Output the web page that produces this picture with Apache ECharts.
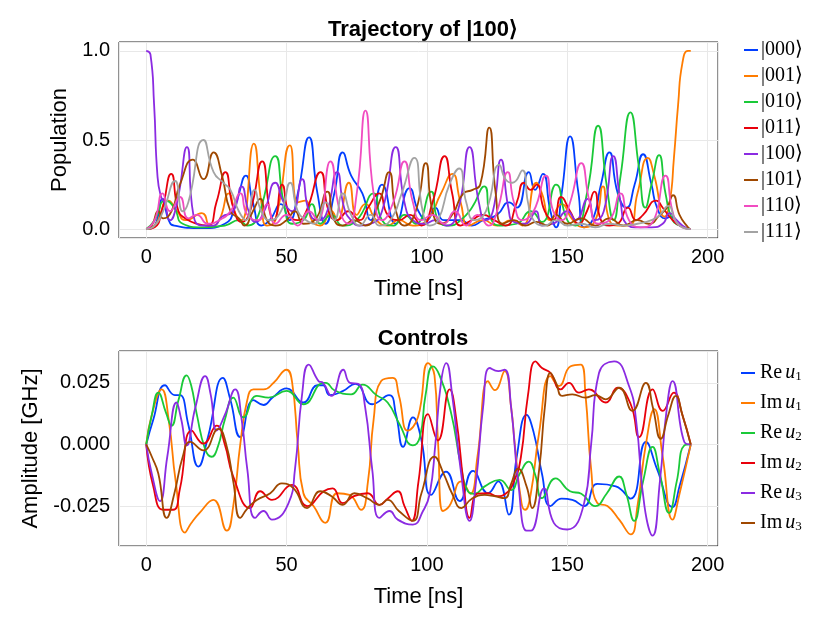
<!DOCTYPE html>
<html>
<head>
<meta charset="utf-8">
<script src="https://cdn.jsdelivr.net/npm/echarts@6/dist/echarts.min.js"></script>
<style>
  html, body { margin: 0; padding: 0; background: #fff; }
  #chart { width: 830px; height: 623px; }
</style>
</head>
<body>
<div id="chart"></div>
<script>
// populations, [time ns, population]
var pop000 = [[0,0],[3,0.02],[5.8,0.17],[8,0.05],[10,0.02],[20,0.005],[28,0.03],[32,0.15],[35.5,0.30],[38,0.15],[41,0.02],[44,0.05],[48,0.14],[51,0.05],[54,0.2],[58,0.515],[61,0.2],[63.9,0.03],[67,0.2],[70,0.43],[73,0.3],[77,0.2],[80,0.05],[84,0.25],[88.8,0.03],[93.8,0.23],[97,0.1],[100,0.05],[103,0.12],[106,0.05],[112,0.05],[116,0.02],[120,0.05],[125,0.08],[129.3,0.15],[132,0.12],[136.3,0.32],[138.5,0.22],[141.3,0.31],[144,0.1],[146,0.01],[148,0.2],[151,0.52],[154,0.2],[156,0.01],[159,0.05],[162,0.25],[165,0.43],[168,0.2],[171,0.12],[174,0.25],[177,0.42],[180,0.25],[182,0.12],[185,0.06],[187,0.07],[190,0.02],[194,0]];
var pop001 = [[0,0],[3,0.02],[7.9,0.16],[11,0.1],[14,0.05],[19.8,0.09],[23,0.01],[26,0.05],[29.4,0.2],[32,0.08],[34,0.05],[38.3,0.48],[41,0.15],[43,0.02],[46,0.05],[51.2,0.47],[54,0.15],[56.7,0.16],[59,0.05],[62,0.02],[66,0.1],[68,0.05],[72.2,0.26],[75,0.08],[78,0.14],[82,0.05],[86,0.02],[90,0.05],[95,0.02],[100,0.05],[105,0.2],[109,0.31],[112,0.15],[115,0.02],[120,0.05],[125,0.02],[130,0.05],[134,0.02],[139,0.26],[141,0.2],[144,0.05],[148,0.14],[152,0.05],[156,0.01],[160,0.05],[162.7,0.24],[165,0.05],[168,0.02],[172,0.02],[175,0.2],[178.7,0.4],[181,0.3],[184.7,0.07],[186.5,0.15],[188,0.4],[189.5,0.7],[191,0.93],[193,1.0],[194,1.0]];
var pop010 = [[0,0],[3,0.05],[6.8,0.16],[10,0.12],[13,0.03],[20,0.01],[28,0.02],[33,0.05],[36,0.02],[40,0.08],[46,0.41],[49,0.15],[52,0.03],[56,0.05],[59,0.14],[62,0.03],[66,0.08],[70,0.02],[75,0.05],[81,0.2],[84,0.05],[88,0.02],[92,0.08],[96,0.03],[101.5,0.21],[104,0.05],[108,0.02],[112,0.05],[116,0.12],[120.4,0.24],[123,0.05],[127,0.02],[132,0.03],[137,0.1],[141,0.04],[146,0.25],[150,0.05],[153,0.02],[157,0.2],[161,0.58],[164,0.25],[166.5,0.05],[169,0.3],[172.5,0.655],[175.5,0.35],[177.8,0.12],[180,0.25],[182.7,0.415],[185,0.2],[187.5,0.05],[190,0.02],[194,0]];
var pop011 = [[0,0],[3,0.01],[5.5,0.1],[8.9,0.31],[11.5,0.1],[14,0.06],[18,0.03],[22,0.02],[25,0.15],[28.2,0.32],[31,0.12],[34,0.04],[37,0.1],[41.3,0.38],[44,0.1],[45.5,0.05],[48.4,0.25],[51,0.08],[54,0.05],[57,0.1],[62.1,0.32],[65,0.1],[68,0.05],[72,0.1],[76,0.05],[79,0.12],[83,0.2],[86,0.08],[90,0.05],[94,0.08],[98,0.02],[102,0.15],[106.3,0.41],[109,0.2],[112,0.02],[116,0.05],[120,0.08],[124,0.05],[128,0.02],[132,0.15],[134.5,0.26],[137,0.22],[139,0.25],[142,0.1],[145,0.05],[147.8,0.18],[151,0.1],[154,0.03],[157,0.1],[159.7,0.21],[162,0.05],[165,0.02],[168,0.03],[171.6,0.12],[174.5,0.05],[177,0.08],[181.7,0.16],[184,0.12],[187,0.06],[190,0.02],[194,0]];
var pop100 = [[0,1.0],[1.5,0.98],[2.8,0.7],[4,0.3],[5.3,0.18],[6.5,0.15],[8.5,0.05],[11,0.15],[14.5,0.46],[16.8,0.08],[20,0.02],[24,0.02],[27,0.07],[31,0.1],[34,0.24],[36.5,0.1],[39,0.04],[42,0.1],[46,0.26],[49,0.15],[52,0.1],[55.5,0.28],[58,0.1],[61,0.05],[64,0.08],[68,0.32],[70.5,0.12],[73,0.05],[76,0.02],[80,0.03],[84,0.1],[88.9,0.46],[92,0.15],[95,0.05],[99,0.03],[103,0.05],[107,0.02],[111,0.1],[115.2,0.46],[118.5,0.15],[121,0.05],[123.5,0.1],[126.4,0.39],[129,0.12],[131,0.04],[135,0.03],[138.9,0.1],[141,0.02],[145,0.03],[150,0.1],[153,0.05],[157.3,0.17],[160,0.05],[163,0.1],[166.4,0.41],[169,0.15],[171,0.03],[175,0.01],[180,0.01],[184,0.03],[186.5,0.09],[189,0.05],[192,0.01],[194,0]];
var pop101 = [[0,0],[2,0.02],[4.3,0.1],[6,0.06],[9,0.1],[12,0.25],[16.6,0.39],[20.4,0.28],[24,0.43],[27,0.3],[30,0.1],[33,0.06],[35,0.02],[38,0.1],[40.6,0.17],[43,0.05],[46,0.02],[50,0.05],[53,0.1],[56,0.03],[60,0.05],[64.5,0.21],[67,0.05],[70,0.02],[74,0.05],[78,0.02],[83,0.15],[86.5,0.32],[89,0.1],[92,0.02],[96,0.1],[99.6,0.37],[102,0.1],[105,0.03],[109,0.08],[113,0.2],[116.3,0.22],[119,0.25],[122.2,0.57],[124.5,0.2],[127,0.03],[131,0.05],[135,0.02],[139,0.04],[143,0.02],[146,0.08],[150,0.03],[155,0.06],[160,0.02],[165,0.06],[170,0.02],[175,0.05],[179,0.03],[183,0.08],[185.5,0.12],[187.7,0.19],[190,0.08],[193,0.01],[194,0]];
var pop110 = [[0,0],[3,0.05],[5.8,0.2],[8.5,0.1],[12,0.18],[15,0.06],[18,0.08],[22,0.03],[26,0.05],[30,0.1],[33.5,0.2],[36,0.08],[40,0.05],[43,0.14],[46,0.03],[50,0.08],[54,0.02],[58,0.1],[61,0.05],[65.6,0.38],[69,0.1],[72,0.03],[75,0.2],[78.1,0.665],[81,0.2],[84,0.05],[88,0.15],[92,0.38],[95,0.15],[98,0.05],[102,0.08],[106,0.03],[110,0.1],[114,0.02],[118,0.08],[122,0.02],[125,0.1],[128.8,0.32],[131,0.15],[134,0.05],[138,0.1],[142.4,0.3],[145,0.1],[148,0.05],[151,0.15],[155,0.37],[158,0.15],[161,0.03],[165,0.05],[169,0.2],[172,0.05],[176,0.01],[180,0.03],[185,0.3],[187.5,0.1],[190,0.02],[194,0]];
var pop111 = [[0,0],[3,0.02],[6,0.1],[10.3,0.27],[13,0.1],[15,0.15],[20.4,0.5],[24,0.32],[27.5,0.26],[30,0.22],[33,0.1],[35.5,0.05],[38.6,0.22],[41,0.1],[44,0.05],[48,0.1],[51.3,0.26],[54,0.1],[57,0.05],[60,0.03],[64,0.15],[67,0.05],[70,0.2],[73,0.08],[76,0.02],[80,0.08],[83,0.02],[87,0.05],[91,0.2],[95.5,0.4],[98.5,0.1],[101,0.02],[104,0.05],[108,0.25],[111.5,0.34],[114,0.15],[117,0.05],[121,0.1],[125.8,0.36],[128,0.28],[130.5,0.26],[134,0.33],[136,0.15],[138,0.05],[142,0.02],[146,0.05],[150,0.02],[155,0.03],[160,0.01],[165,0.03],[170,0.02],[175,0.03],[180,0.05],[183,0.08],[186,0.13],[188.5,0.05],[191,0.01],[194,0]];

// controls, [time ns, amplitude GHz]
var reU1 = [[0,0],[2.5,0.010],[6.7,0.024],[10.2,0.020],[12,0.020],[15,0.008],[18.6,-0.009],[22,0.003],[27.3,0.027],[30,0.018],[33.5,0.003],[38.2,0.018],[41.8,0.016],[45,0.019],[50,0.0227],[56,0.017],[61,0.024],[63,0.024],[65.4,0.020],[70,0.0216],[74.5,0.0246],[80.5,0.0163],[86.5,0.020],[89,0.012],[91.5,-0.001],[95,0.011],[98,0.002],[101.5,-0.0205],[106.8,-0.011],[111.7,-0.023],[116.4,-0.0107],[121.8,-0.0198],[125.4,-0.015],[129.2,-0.0285],[132,-0.005],[135.5,0.012],[138,0.005],[141,-0.012],[144,-0.025],[148,-0.022],[151.8,-0.0225],[156,-0.025],[160.7,-0.016],[167.3,-0.017],[172.6,-0.022],[178,0.001],[182,-0.01],[187.5,-0.0254],[190,-0.017],[194,0]];
var imU1 = [[0,0],[2,0.012],[5.5,0.0223],[8,0.01],[10.5,-0.015],[13.8,-0.0358],[16,-0.032],[19,-0.0278],[23.9,-0.0225],[28.7,-0.035],[31,-0.025],[33.5,0.0],[36,0.018],[38.2,0.0223],[41.8,0.0223],[45.4,0.025],[50,0.0303],[52,0.025],[54,0.0],[56,-0.0198],[59.6,-0.025],[63.8,-0.0318],[68,-0.0198],[72.4,-0.0205],[76.5,-0.0265],[79,-0.015],[81,0.01],[83.7,0.0257],[87.8,0.027],[90,0.02],[93.2,0.0056],[96.8,0.011],[100.4,0.033],[102.7,0.028],[104,0.0],[105.7,-0.027],[108,-0.025],[112.3,-0.015],[115.5,-0.02],[118,-0.005],[121.8,0.0257],[124.2,0.022],[127.7,0.0297],[130,0.015],[131.3,0.0],[133.7,-0.0238],[135,-0.0265],[137,-0.02],[140,0.005],[144,0.0277],[147,0.0237],[151.2,0.0317],[154.8,0.0324],[156.5,0.02],[158.5,-0.01],[160.7,-0.0238],[164.3,-0.025],[168.5,-0.0305],[172.6,-0.0365],[175,-0.025],[178,0.0],[181,0.0143],[184,-0.005],[187.5,-0.0305],[190,-0.02],[194,0]];
var reU2 = [[0,0],[2,0.012],[4.3,0.021],[7,0.013],[9,0.0076],[11.5,0.018],[14.4,0.028],[16,0.024],[18,0.0123],[21,-0.002],[23.3,-0.005],[25.5,-0.001],[28,0.01],[31,0.019],[34.6,0.011],[39.4,0.0197],[43.6,0.019],[50,0.0217],[56,0.0163],[63.2,0.025],[64,0.025],[67,0.022],[73,0.0203],[77.1,0.0243],[82,0.02],[86,0.017],[90.2,0.0083],[95,-0.0004],[97.5,0.003],[99.5,0.02],[102.1,0.0317],[104.5,0.028],[108.7,0.0123],[112,-0.008],[114.6,-0.019],[117,-0.02],[120.6,-0.017],[125.9,-0.0144],[130,-0.0185],[133,-0.012],[136.3,-0.007],[138.5,-0.012],[141,-0.0218],[145.8,-0.0138],[151,-0.019],[155,-0.02],[160,-0.025],[164,-0.02],[168.5,-0.013],[171,-0.02],[173.8,-0.031],[177,-0.015],[180.4,-0.001],[183,-0.012],[186.3,-0.0278],[189,-0.015],[191.7,-0.0004],[194,0]];
var imU2 = [[0,0],[2.5,-0.017],[6,-0.0265],[9.6,-0.0265],[12,-0.018],[16.2,0.0056],[20.4,0.0003],[25.1,0.0076],[28,0.0],[31,-0.013],[37,-0.0258],[40.6,-0.019],[44.8,-0.0225],[51.9,-0.0164],[57.3,-0.025],[63.2,-0.019],[66.4,-0.0178],[70,-0.0238],[74,-0.021],[78.9,-0.0198],[83.1,-0.0245],[86,-0.022],[89.6,-0.019],[92,-0.025],[94.6,-0.031],[97,-0.015],[100.4,0.0123],[103.9,0.0016],[108.1,0.0223],[110.5,0.01],[113,-0.015],[115.2,-0.0298],[118,-0.02],[121.8,-0.0198],[125,-0.021],[128,-0.02],[131,-0.015],[133.5,-0.005],[136,0.02],[138.7,0.0337],[141,0.031],[144,0.029],[147.6,0.0223],[150.6,0.025],[154.2,0.021],[157.7,0.0223],[163.7,0.017],[167.9,0.023],[172.6,0.0163],[175.6,0.003],[180.4,0.0223],[184,0.0136],[188,0.021],[191,0.012],[194,0]];
var reU3 = [[0,0],[2,-0.012],[4.9,-0.023],[7.5,-0.005],[10.8,0.017],[12.5,0.01],[14.4,-0.0004],[17.5,0.015],[21,0.0277],[23,0.02],[25.1,0.0056],[28,0.012],[31.7,0.0223],[34,0.01],[36,-0.01],[38.8,-0.0298],[41.8,-0.027],[44.8,-0.0305],[50.7,-0.0238],[53,-0.01],[55.5,0.02],[57.9,0.0324],[61.4,0.0257],[63,0.025],[66,0.0197],[70.2,0.0303],[72.6,0.025],[75.5,0.0246],[78,0.015],[80.5,-0.01],[83.1,-0.0298],[86.7,-0.027],[89.6,-0.0305],[95,-0.0325],[98.6,-0.027],[101,-0.02],[103,0.0],[105,0.025],[106.9,0.033],[109,0.02],[112,-0.01],[115.2,-0.031],[117.5,-0.015],[120,0.015],[122.4,0.031],[125.4,0.0297],[127.7,0.0303],[130,0.015],[132.5,-0.015],[135.5,-0.035],[137,-0.035],[141.7,-0.0178],[145.2,-0.0318],[150,-0.0345],[156,-0.0238],[158.5,0.0],[161.3,0.029],[166.7,0.0337],[172,0.0237],[174.5,0.01],[177.5,-0.025],[180.4,-0.037],[183,-0.015],[185.5,0.015],[187.5,0.0257],[191.7,0.001],[194,0]];
var imU3 = [[0,0],[2,-0.005],[4.3,-0.0118],[7.3,-0.0298],[10,-0.02],[13,-0.005],[15.6,0.001],[20.4,-0.0024],[25.7,0.0063],[28.5,0.0],[31,-0.015],[33.5,-0.0298],[36,-0.026],[39.4,-0.0225],[44.2,-0.0198],[48.3,-0.0158],[52.5,-0.0178],[57.3,-0.0258],[62,-0.019],[66,-0.021],[70,-0.0245],[74.2,-0.0198],[79,-0.022],[83.1,-0.0245],[86,-0.0225],[90,-0.027],[95,-0.031],[98,-0.02],[102.7,-0.005],[106,-0.012],[109,-0.02],[112.3,-0.0258],[116,-0.022],[120.6,-0.0205],[124,-0.021],[127.7,-0.0218],[130,-0.016],[132.5,-0.0098],[135.5,-0.017],[137.5,-0.0258],[140,-0.01],[142,0.015],[144,0.029],[146,0.025],[148.2,0.0197],[151.8,0.0203],[156.5,0.019],[160,0.02],[163.7,0.0183],[168.5,0.023],[173.2,0.0136],[178,0.025],[180.5,0.015],[183.3,0.0023],[186,0.012],[188.7,0.0197],[191,0.012],[194,0]];

var popNames = ['|000⟩', '|001⟩', '|010⟩', '|011⟩', '|100⟩', '|101⟩', '|110⟩', '|111⟩'];
var popData = [pop000, pop001, pop010, pop011, pop100, pop101, pop110, pop111];
var ctrlNames = ['Re u1', 'Im u1', 'Re u2', 'Im u2', 'Re u3', 'Im u3'];
var ctrlData = [reU1, imU1, reU2, imU2, reU3, imU3];
var colors = ['#023eff', '#ff7c00', '#1ac938', '#e8000b', '#8b2be2', '#9f4800', '#f14cc1', '#a3a3a3'];

var chart = echarts.init(document.getElementById('chart'));
var sans = 'Liberation Sans';
var serif = 'Liberation Serif';

function xAxisCfg(idx) {
    return {
        type: 'value', gridIndex: idx, min: -9.7, max: 203.7,
        minInterval: 50, maxInterval: 50,
        name: 'Time [ns]', nameLocation: 'middle', nameGap: 40,
        nameTextStyle: { fontFamily: sans, fontSize: 22, color: '#000' },
        axisLine: { show: false }, axisTick: { show: false },
        axisLabel: {
            showMinLabel: false, showMaxLabel: false, margin: 9,
            fontFamily: sans, fontSize: 20, color: '#000',
            formatter: function (v) { return Math.abs(v % 50) < 1e-6 ? String(v) : ''; }
        },
        splitLine: { show: true, lineStyle: { color: '#e8e8e8', width: 1 } }
    };
}

function fmtY(v, d, step) {
    var r = v / step;
    if (Math.abs(r - Math.round(r)) > 1e-6) return '';
    if (Math.abs(v) < 1e-9) return (0).toFixed(d);
    return v < 0 ? '-' + (-v).toFixed(d) : v.toFixed(d);
}

var series = [];
popData.forEach(function (d, i) {
    series.push({
        name: popNames[i], type: 'line', xAxisIndex: 0, yAxisIndex: 0,
        data: d, smooth: 0.55, showSymbol: false,
        lineStyle: { width: 1.8, color: colors[i] }, itemStyle: { color: colors[i] },
        z: 2 + i
    });
});
ctrlData.forEach(function (d, i) {
    series.push({
        name: ctrlNames[i], type: 'line', xAxisIndex: 1, yAxisIndex: 1,
        data: d, smooth: 0.5, showSymbol: false,
        lineStyle: { width: 1.8, color: colors[i] }, itemStyle: { color: colors[i] },
        z: 2 + i
    });
});

chart.setOption({
    animation: false,
    backgroundColor: '#fff',
    title: [
        { text: 'Trajectory of |100⟩', left: 418, top: 14, textAlign: 'center',
          textStyle: { fontFamily: sans, fontSize: 22, fontWeight: 'bold', color: '#000' } },
        { text: 'Controls', left: 418, top: 323, textAlign: 'center',
          textStyle: { fontFamily: sans, fontSize: 22, fontWeight: 'bold', color: '#000' } }
    ],
    legend: [
        {
            data: popNames, orient: 'vertical', left: 739, top: 35,
            icon: 'rect', itemWidth: 14, itemHeight: 2, itemGap: 6, itemStyle: { borderWidth: 0 },
            textStyle: { fontFamily: serif, fontSize: 20, color: '#000', lineHeight: 20, padding: [0, 0, 0, -2] }
        },
        {
            data: ctrlNames, orient: 'vertical', left: 736, top: 356,
            icon: 'rect', itemWidth: 14, itemHeight: 2, itemGap: 6,
            formatter: function (n) {
                var p = n.split(' ');
                return '{a|' + p[0] + '}{b|' + p[1].charAt(0) + '}{c|' + p[1].charAt(1) + '}';
            },
            textStyle: {
                fontFamily: serif, fontSize: 20, color: '#000', lineHeight: 24,
                rich: {
                    a: { fontFamily: serif, fontSize: 20, color: '#000', padding: [0, 3, 0, 0] },
                    b: { fontFamily: serif, fontSize: 20, fontStyle: 'italic', color: '#000' },
                    c: { fontFamily: serif, fontSize: 13, color: '#000', padding: [8, 0, 0, 0] }
                }
            }
        }
    ],
    grid: [
        { left: 119, right: 112, top: 42, height: 196, show: true, borderColor: '#222', borderWidth: 1, backgroundColor: 'transparent' },
        { left: 119, right: 112, top: 351, height: 195, show: true, borderColor: '#222', borderWidth: 1, backgroundColor: 'transparent' }
    ],
    xAxis: [xAxisCfg(0), xAxisCfg(1)],
    yAxis: [
        {
            type: 'value', gridIndex: 0, min: -0.05, max: 1.05,
            minInterval: 0.5, maxInterval: 0.5,
            name: 'Population', nameLocation: 'middle', nameGap: 45,
            nameTextStyle: { fontFamily: sans, fontSize: 22, color: '#000' },
            axisLine: { show: false }, axisTick: { show: false },
            axisLabel: { showMinLabel: false, showMaxLabel: false, margin: 9, fontFamily: sans, fontSize: 20, color: '#000',
                formatter: function (v) { return fmtY(v, 1, 0.5); } },
            splitLine: { show: true, lineStyle: { color: '#e8e8e8', width: 1 } }
        },
        {
            type: 'value', gridIndex: 1, min: -0.0412, max: 0.0379,
            minInterval: 0.025, maxInterval: 0.025,
            name: 'Amplitude [GHz]', nameLocation: 'middle', nameGap: 75,
            nameTextStyle: { fontFamily: sans, fontSize: 22, color: '#000' },
            axisLine: { show: false }, axisTick: { show: false },
            axisLabel: { showMinLabel: false, showMaxLabel: false, margin: 9, fontFamily: sans, fontSize: 20, color: '#000',
                formatter: function (v) { return fmtY(v, 3, 0.025); } },
            splitLine: { show: true, lineStyle: { color: '#e8e8e8', width: 1 } }
        }
    ],
    series: series
});
</script>
</body>
</html>
